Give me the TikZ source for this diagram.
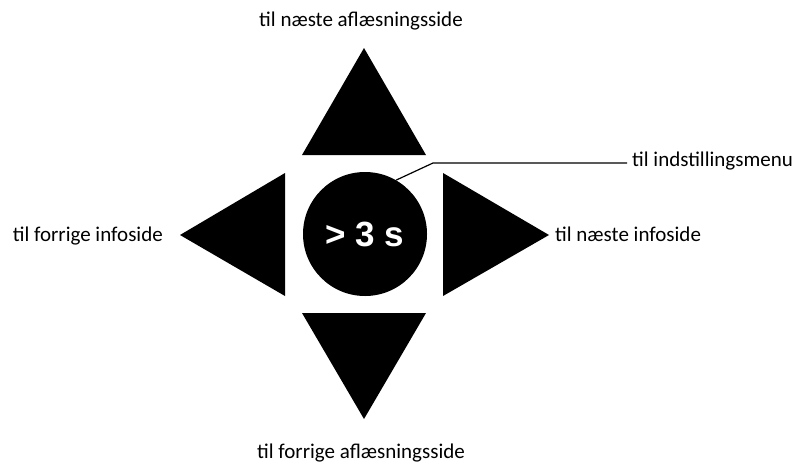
\documentclass[tikz,border=0pt]{standalone}
\usepackage{fontspec}
\setmainfont{Carlito}
\newfontfamily\btnfont{Liberation Sans}
\usetikzlibrary{positioning}
\tikzset{
  lbl/.style={font=\fontsize{21}{25}\selectfont,anchor=base,inner sep=0pt},
  keytri/.style={fill=black},
}

\begin{document}
\begin{tikzpicture}[x=1pt,y=-1pt]
\useasboundingbox (0,0) rectangle (802,466);
% arrow keys
\fill [keytri] (364,48)  -- (426,155) -- (302,155) -- cycle;
\fill [keytri] (364,419) -- (426,313) -- (302,313) -- cycle;
\fill [keytri] (180,235) -- (285,173) -- (285,296) -- cycle;
\fill [keytri] (549,235) -- (443,173) -- (443,296) -- cycle;
% centre button
\node [circle,fill=black,minimum size=124pt,inner sep=0pt] (btn) at (365,234) {};
\node [text=white,font=\btnfont\bfseries\fontsize{35}{40}\selectfont] (btntxt) at (btn.center) {> 3 s};
% labels
\node [lbl] (up)    at (361,26)  {til næste aflæsningsside};
\node [lbl] (down)  at (361,458) {til forrige aflæsningsside};
\node [lbl,anchor=base east] (left)  at (163,241) {til forrige infoside};
\node [lbl,anchor=base west] (right) at (555,241) {til næste infoside};
\node [lbl,anchor=base west] (menu)  at (632,166) {til indstillingsmenu};
\coordinate (kink) at (433,163);
\draw [line width=1.2pt] (btn.60) -- (kink) -- ([xshift=-5pt]kink -| menu.west);
\end{tikzpicture}
\end{document}
